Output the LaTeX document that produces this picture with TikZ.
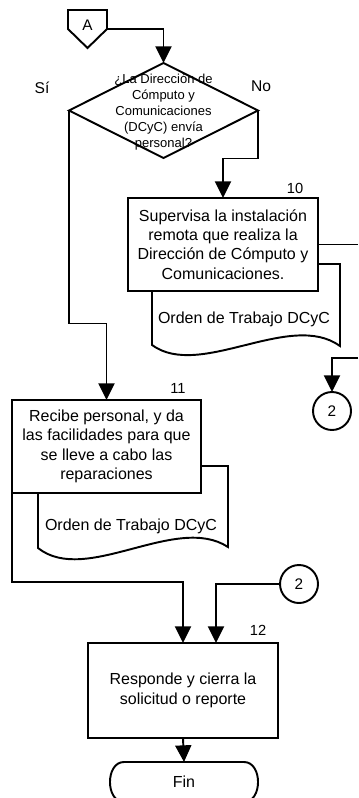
\documentclass[tikz,border=0pt]{standalone}
\usepackage{fontspec}
\setmainfont{Liberation Sans}
\usetikzlibrary{arrows.meta,shapes.geometric}
\begin{document}
\begin{tikzpicture}[x=0.75pt,y=-0.75pt,line width=1.45pt,line join=miter,
  stepbox/.style={draw,fill=white,rectangle,inner sep=0,outer sep=0,align=center,font=\fontsize{12}{14.5}\selectfont},
  arr/.style={-{Triangle[length=12.5pt,width=12pt]}},
  conn/.style={draw,fill=white,circle,minimum size=28.5pt,inner sep=0,outer sep=0,font=\fontsize{11.5}{13}\selectfont},
  lbl/.style={inner sep=0,font=\fontsize{11.7}{14}\selectfont},
  num/.style={inner sep=0,font=\fontsize{11}{13}\selectfont},
  doctext/.style={inner sep=0,font=\fontsize{12}{14.5}\selectfont},
  dectext/.style={inner sep=0,align=center,font=\fontsize{9.75}{12}\selectfont}]
\useasboundingbox (0,0) rectangle (358,798);
\clip (0,0) rectangle (358,798);

% off-page connector A
\node[inner sep=0,outer sep=0,minimum width=29.25pt,minimum height=28.5pt] (Aconn) at (87.5,29) {};
\draw[fill=white] (Aconn.north west) -- (Aconn.north east) -- (Aconn.east) -- (Aconn.south) -- (Aconn.west) -- cycle;
\node[inner sep=0,font=\fontsize{11.5}{13}\selectfont] (Atext) at (87.5,25) {A};

% decision
\node[diamond,draw,fill=white,minimum width=141.75pt,minimum height=71.25pt,inner sep=0,outer sep=0] (dec) at (163.5,110.5) {};
\node[dectext] (dectxt) at (163.5,112) {¿La Dirección de\\Cómputo y\\Comunicaciones\\(DCyC) envía\\personal?};
\node[lbl] (si) at (42,88) {Sí};
\node[lbl] (no) at (261,86) {No};

% documents (drawn behind boxes)
\draw[fill=white] (152,264) -- (152,345) .. controls (200,380) and (290,310) .. (340,346) -- (340,264) -- cycle;
\node[doctext] (doc10) at (244,319) {Orden de Trabajo DCyC};
\draw[fill=white] (38,466) -- (38,548) .. controls (86,586) and (176,513) .. (228,547) -- (228,466) -- cycle;
\node[doctext] (doc11) at (131,526) {Orden de Trabajo DCyC};

% step boxes
\node[stepbox,minimum width=142.5pt,minimum height=69.75pt] (box10) at (223,244.5)
  {Supervisa la instalación\\remota que realiza la\\Dirección de Cómputo y\\Comunicaciones.};
\node[num] (n10) at (295,188) {10};

\node[stepbox,minimum width=141.75pt,minimum height=69.75pt] (box11) at (106.5,446.5)
  {Recibe personal, y da\\las facilidades para que\\se lleve a cabo las\\reparaciones};
\node[num] (n11) at (178,388) {11};

\node[stepbox,minimum width=142.5pt,minimum height=71.25pt] (box12) at (183,690.5)
  {Responde y cierra la\\solicitud o reporte};
\node[num] (n12) at (258,630) {12};

% connectors 2
\node[conn] (c2a) at (332,411) {2};
\node[conn] (c2b) at (299,584) {2};

% terminator Fin
\node[inner sep=0,outer sep=0,minimum width=111pt,minimum height=30pt,font=\fontsize{12}{14}\selectfont] (fin) at (184,782) {Fin};
\draw (124,762) -- (244,762) .. controls (262.7,762) and (262.7,802) .. (244,802)
  -- (124,802) .. controls (105.3,802) and (105.3,762) .. (124,762) -- cycle;

% edges
\coordinate (out1) at (358,244.5);
\coordinate (in1) at (358,358);
\draw[arr] (Aconn.east) -| (dec.north);
\draw[arr] (dec.east) -- ++(0,48) -| (box10.north);
\draw[arr] (dec.west) -- ++(0,213) -| (box11.north);
\draw (box10.east) -- (out1);
\draw[arr] (in1) -| (c2a.north);
\draw[arr] (box11.south west) -- ++(0,89) -| (box12.north);
\draw[arr] (c2b.west) -| ([xshift=24.75pt]box12.north);
\draw[arr] (box12.south) -- (fin.north);
\end{tikzpicture}
\end{document}
